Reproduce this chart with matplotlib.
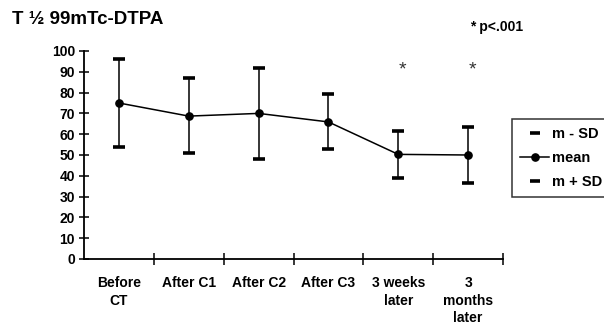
import numpy as np
import matplotlib
matplotlib.use("Agg")
import matplotlib.pyplot as plt
from matplotlib.lines import Line2D

# ==========================================
# DATA
# ==========================================
categories = ['Before\nCT', 'After C1', 'After C2', 'After C3', '3 weeks\nlater', '3\nmonths\nlater']
mean_vals = [75.0, 68.7, 70.0, 65.9, 50.3, 50.0]
upper_vals = [96.0, 87.0, 92.0, 79.3, 61.5, 63.6]   # m + SD
lower_vals = [53.8, 51.0, 48.0, 52.9, 39.0, 36.5]   # m - SD
signif_idx = [4, 5]
yticks = [0, 10, 20, 30, 40, 50, 60, 70, 80, 90, 100]
# ==========================================

plt.rcParams['font.family'] = ['Liberation Sans', 'DejaVu Sans']
FS = 10

fig = plt.figure(figsize=(6.04, 3.26), dpi=100)
ax = fig.add_axes([84 / 604, 67 / 326, (503 - 84) / 604, 208 / 326])

x = np.arange(len(categories))
mean_arr = np.array(mean_vals)
yerr = np.vstack([mean_arr - np.array(lower_vals), np.array(upper_vals) - mean_arr])

# error bars (thin line, thick short caps)
ax.errorbar(x, mean_arr, yerr=yerr, fmt='none', ecolor='black', elinewidth=1.1,
            capsize=4.5, capthick=2.6, zorder=2)
ax.plot(x, mean_arr, color='black', lw=1.1, marker='o', markersize=5.2, zorder=3)

# significance marks
for i in signif_idx:
    ax.text(i + 0.06, 91, '*', ha='center', va='center', fontsize=14, color='#333333')

ax.set_xlim(-0.5, len(categories) - 0.5)
ax.set_ylim(0, 100)
ax.set_yticks(yticks)
ax.set_yticklabels([str(v) for v in yticks], fontsize=FS, fontweight='bold')

ax.set_xticks(x)
ax.set_xticklabels(categories, fontsize=FS, fontweight='bold', linespacing=1.35, va='top')
ax.set_xticks(np.arange(len(categories)) + 0.5, minor=True)
ax.tick_params(axis='x', which='major', length=0, pad=12)
ax.tick_params(axis='x', which='minor', direction='inout', length=8, width=1.1)
ax.tick_params(axis='y', direction='inout', length=7, width=1.1, pad=3)

for side in ['top', 'right']:
    ax.spines[side].set_visible(False)
for side in ['left', 'bottom']:
    ax.spines[side].set_linewidth(1.3)
ax.spines['bottom'].set_bounds(-0.5, len(categories) - 0.5)

# titles
fig.text(12 / 604, 1 - 20 / 326, 'T \u00bd 99mTc-DTPA', fontsize=13.5, fontweight='bold',
         ha='left', va='center')
fig.text(470 / 604, 1 - 27 / 326, '* p<.001', fontsize=FS, fontweight='bold',
         ha='left', va='center')

# legend
handles = [
    Line2D([], [], color='black', marker='_', markersize=7, markeredgewidth=2.6, linestyle='none'),
    Line2D([], [], color='black', marker='o', markersize=5.2, lw=1.1),
    Line2D([], [], color='black', marker='_', markersize=7, markeredgewidth=2.6, linestyle='none'),
]
leg = fig.legend(handles, ['m - SD', 'mean', 'm + SD'], loc='upper left',
                 bbox_to_anchor=(512 / 604, 1 - 119 / 326), frameon=True, fancybox=False,
                 edgecolor='black', prop={'size': 10.5, 'weight': 'bold'},
                 handlelength=2.0, handletextpad=0.2, borderpad=0.55, labelspacing=0.7,
                 borderaxespad=0)
leg.get_frame().set_linewidth(1.1)

fig.savefig('out.png', dpi=100)
